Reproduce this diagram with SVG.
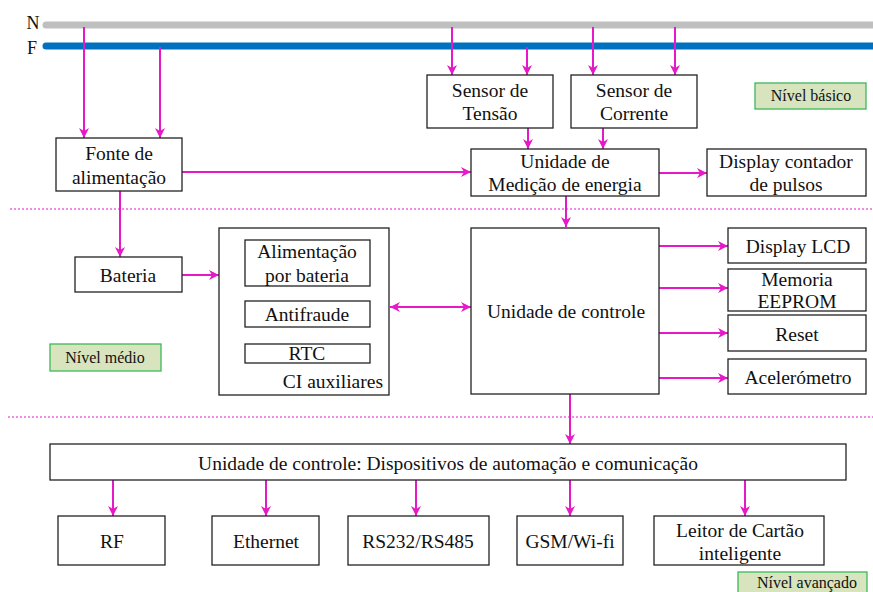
<svg xmlns="http://www.w3.org/2000/svg" width="873" height="592" viewBox="0 0 873 592">
<defs>
<marker id="ah" markerWidth="10" markerHeight="10" refX="10" refY="5" orient="auto" markerUnits="userSpaceOnUse">
<path d="M0,0 L10,5 L0,10 L3,5 Z" fill="#e619c8"/>
</marker>
<marker id="as" markerWidth="10" markerHeight="10" refX="0" refY="5" orient="auto" markerUnits="userSpaceOnUse">
<path d="M10,0 L0,5 L10,10 L7,5 Z" fill="#e619c8"/>
</marker>
</defs>
<style>
.box{fill:#fff;stroke:#222;stroke-width:1.3}
.lvl{fill:#d7e4bd;stroke:#3cb95a;stroke-width:1.3}
text{font-family:"Liberation Serif","Times New Roman",serif;font-size:19.5px;fill:#111;text-anchor:middle}
.sm{font-size:16px}
.end{text-anchor:end}
.bus{font-size:18px}
.c{stroke:#e619c8;stroke-width:2;fill:none;marker-end:url(#ah)}
.d{stroke:#e619c8;stroke-width:1;stroke-dasharray:2,2;fill:none}
</style>
<rect width="873" height="592" fill="#fff"/>
<g id="buses">
<line x1="46" y1="25" x2="880" y2="25" stroke="#bfbfbf" stroke-width="7" stroke-linecap="round"/>
<line x1="46" y1="46" x2="880" y2="46" stroke="#0070c0" stroke-width="7" stroke-linecap="round"/>
<text class="bus" x="33" y="29">N</text>
<text class="bus" x="32" y="54">F</text>
</g>
<g id="separators">
<line class="d" x1="10" y1="209" x2="873" y2="209"/>
<line class="d" x1="8" y1="417" x2="873" y2="417"/>
</g>
<g id="connectors">
<line class="c" x1="84" y1="27" x2="84" y2="138"/>
<line class="c" x1="160" y1="47" x2="160" y2="138"/>
<line class="c" x1="452" y1="27" x2="452" y2="75"/>
<line class="c" x1="527" y1="47" x2="527" y2="75"/>
<line class="c" x1="593" y1="27" x2="593" y2="75"/>
<line class="c" x1="675" y1="27" x2="675" y2="75"/>
<line class="c" x1="528" y1="128" x2="528" y2="149"/>
<line class="c" x1="603" y1="128" x2="603" y2="149"/>
<line class="c" x1="182" y1="172" x2="471" y2="172"/>
<line class="c" x1="659" y1="173" x2="707" y2="173"/>
<line class="c" x1="566" y1="196" x2="566" y2="227"/>
<line class="c" x1="120" y1="191" x2="120" y2="257"/>
<line class="c" x1="182" y1="275" x2="219" y2="275"/>
<line class="c" x1="390" y1="307" x2="471" y2="307" style="marker-start:url(#as)"/>
<line class="c" x1="659" y1="246" x2="728" y2="246"/>
<line class="c" x1="659" y1="288" x2="728" y2="288"/>
<line class="c" x1="659" y1="333" x2="728" y2="333"/>
<line class="c" x1="659" y1="378" x2="728" y2="378"/>
<line class="c" x1="570" y1="394" x2="570" y2="444"/>
<line class="c" x1="113" y1="480" x2="113" y2="516"/>
<line class="c" x1="266" y1="480" x2="266" y2="516"/>
<line class="c" x1="416" y1="480" x2="416" y2="516"/>
<line class="c" x1="570" y1="480" x2="570" y2="516"/>
<line class="c" x1="745" y1="480" x2="745" y2="516"/>
</g>
<g id="fonte"><rect class="box" x="56" y="138" width="126" height="53"/><text x="119" y="160">Fonte de</text><text x="119" y="184">alimentação</text></g>
<g id="sensor-tensao"><rect class="box" x="427" y="75" width="126" height="53"/><text x="490" y="97">Sensor de</text><text x="490" y="120">Tensão</text></g>
<g id="sensor-corrente"><rect class="box" x="571" y="75" width="126" height="53"/><text x="634" y="97">Sensor de</text><text x="634" y="120">Corrente</text></g>
<g id="nivel-basico"><rect class="lvl" x="755" y="83" width="111" height="26"/><text class="sm" x="811" y="101">Nível básico</text></g>
<g id="medicao"><rect class="box" x="471" y="149" width="188" height="47"/><text x="565" y="168">Unidade de</text><text x="565" y="191">Medição de energia</text></g>
<g id="display-pulsos"><rect class="box" x="707" y="149" width="159" height="47"/><text x="786" y="168">Display contador</text><text x="786" y="191">de pulsos</text></g>
<g id="bateria"><rect class="box" x="75" y="257" width="107" height="35"/><text x="128" y="282">Bateria</text></g>
<g id="ci"><rect class="box" x="219" y="228" width="170" height="167"/><text class="end" x="383" y="388">CI auxiliares</text></g>
<g id="alim-bateria"><rect class="box" x="245" y="240" width="125" height="46"/><text x="307" y="258">Alimentação</text><text x="307" y="282">por bateria</text></g>
<g id="antifraude"><rect class="box" x="245" y="301" width="125" height="26"/><text x="307" y="321">Antifraude</text></g>
<g id="rtc"><rect class="box" x="245" y="344" width="125" height="19"/><text x="307" y="360">RTC</text></g>
<g id="nivel-medio"><rect class="lvl" x="50" y="344" width="111" height="27"/><text class="sm" x="105" y="363">Nível médio</text></g>
<g id="controle"><rect class="box" x="471" y="228" width="188" height="166"/><text x="566" y="318">Unidade de controle</text></g>
<g id="lcd"><rect class="box" x="728" y="228" width="138" height="35"/><text x="798" y="253">Display LCD</text></g>
<g id="eeprom"><rect class="box" x="728" y="269" width="138" height="42"/><text x="797" y="286">Memoria</text><text x="797" y="308">EEPROM</text></g>
<g id="reset"><rect class="box" x="728" y="315" width="138" height="36"/><text x="797" y="341">Reset</text></g>
<g id="acelerometro"><rect class="box" x="728" y="359" width="138" height="35"/><text x="798" y="384">Acelerómetro</text></g>
<g id="automacao"><rect class="box" x="50" y="444" width="796" height="36"/><text x="448" y="470">Unidade de controle: Dispositivos de automação e comunicação</text></g>
<g id="rf"><rect class="box" x="58" y="516" width="107" height="49"/><text x="112" y="548">RF</text></g>
<g id="ethernet"><rect class="box" x="212" y="516" width="107" height="49"/><text x="266" y="548">Ethernet</text></g>
<g id="rs"><rect class="box" x="348" y="516" width="141" height="49"/><text x="418" y="548">RS232/RS485</text></g>
<g id="gsm"><rect class="box" x="517" y="516" width="106" height="49"/><text x="570" y="548">GSM/Wi-fi</text></g>
<g id="leitor"><rect class="box" x="654" y="516" width="170" height="49"/><text x="740" y="537">Leitor de Cartão</text><text x="740" y="560">inteligente</text></g>
<g id="nivel-avancado"><rect class="lvl" x="738" y="572" width="129" height="26"/><text class="sm" x="807" y="588">Nível avançado</text></g>
</svg>
